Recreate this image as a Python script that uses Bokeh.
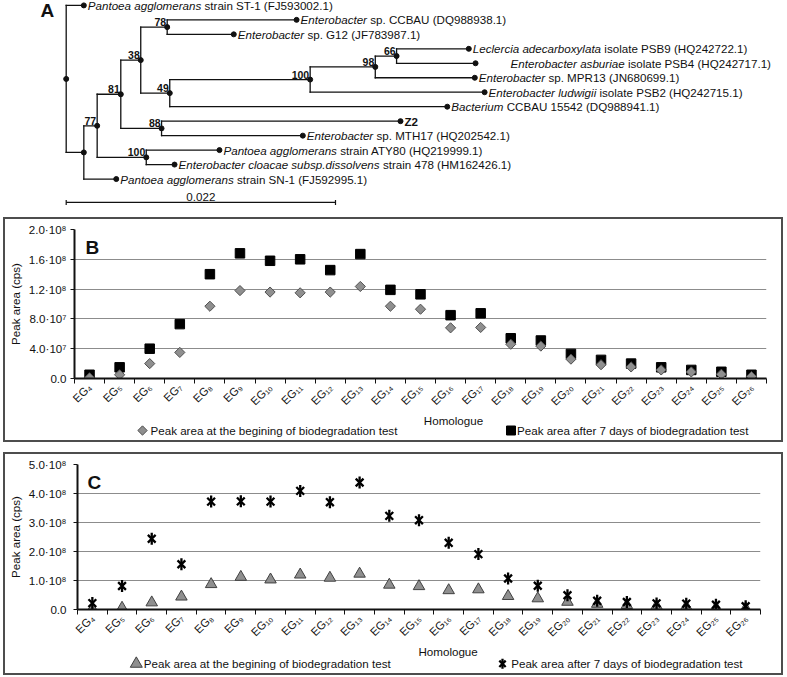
import numpy as np
from bokeh.plotting import figure
from bokeh.models import Range1d, FixedTicker, Label, ColumnDataSource, Spacer
from bokeh.layouts import column
from bokeh.embed import file_html
from bokeh.resources import INLINE
from bokeh.core.properties import value

FONT = "Liberation Sans"
FS = "11.6px"
FSPX = 11.6
INK = "#111111"

# ---------------------------------------------------------------- data
homologues = ["EG₄", "EG₅", "EG₆", "EG₇", "EG₈", "EG₉", "EG₁₀", "EG₁₁", "EG₁₂",
              "EG₁₃", "EG₁₄", "EG₁₅", "EG₁₆", "EG₁₇", "EG₁₈", "EG₁₉", "EG₂₀",
              "EG₂₁", "EG₂₂", "EG₂₃", "EG₂₄", "EG₂₅", "EG₂₆"]

b_begin = [1.0e6, 5.0e6, 2.0e7, 3.5e7, 9.7e7, 1.18e8, 1.16e8, 1.15e8, 1.16e8,
           1.235e8, 9.7e7, 9.3e7, 6.8e7, 6.85e7, 4.6e7, 4.35e7, 2.6e7, 1.85e7,
           1.55e7, 1.15e7, 8.8e6, 5.7e6, 2.6e6]
b_after7 = [5.0e6, 1.5e7, 4.0e7, 7.3e7, 1.40e8, 1.68e8, 1.58e8, 1.60e8, 1.455e8,
            1.67e8, 1.19e8, 1.13e8, 8.5e7, 8.75e7, 5.4e7, 5.1e7, 3.3e7, 2.5e7,
            2.0e7, 1.5e7, 1.15e7, 9.0e6, 5.0e6]
b_yticks = [0, 40_000_000, 80_000_000, 120_000_000, 160_000_000, 200_000_000]
b_yticklabels = ["0.0", "4.0·10⁷", "8.0·10⁷", "1.2·10⁸", "1.6·10⁸", "2.0·10⁸"]

c_begin = [2.0e6, 5.5e6, 2.4e7, 4.4e7, 8.7e7, 1.12e8, 1.03e8, 1.20e8, 1.09e8,
           1.23e8, 8.5e7, 8.0e7, 6.6e7, 6.9e7, 4.6e7, 3.8e7, 2.6e7, 1.9e7,
           1.5e7, 1.2e7, 1.0e7, 6.0e6, 4.0e6]
c_after7 = [2.2e7, 8.1e7, 2.44e8, 1.56e8, 3.72e8, 3.73e8, 3.72e8, 4.09e8, 3.70e8,
            4.38e8, 3.23e8, 3.08e8, 2.30e8, 1.91e8, 1.07e8, 8.2e7, 4.9e7, 3.0e7,
            2.6e7, 2.1e7, 2.0e7, 1.65e7, 1.1e7]
c_yticks = [0, 100_000_000, 200_000_000, 300_000_000, 400_000_000, 500_000_000]
c_yticklabels = ["0.0", "1.0·10⁸", "2.0·10⁸", "3.0·10⁸", "4.0·10⁸", "5.0·10⁸"]

label_begin = "Peak area at the begining of biodegradation test"
label_after = "Peak area after 7 days of biodegradation test"
x_title = "Homologue"
y_title = "Peak area (cps)"

# phylogenetic tree (leaves top to bottom)
leaf_italic = ["Pantoea agglomerans", "Enterobacter", "Enterobacter",
               "Leclercia adecarboxylata", "Enterobacter asburiae", "Enterobacter",
               "Enterobacter ludwigii", "Bacterium", "", "Enterobacter",
               "Pantoea agglomerans", "Enterobacter cloacae subsp.dissolvens",
               "Pantoea agglomerans"]
leaf_plain = ["strain ST-1 (FJ593002.1)", "sp. CCBAU (DQ988938.1)",
              "sp. G12 (JF783987.1)", "isolate PSB9 (HQ242722.1)",
              "isolate PSB4 (HQ242717.1)", "sp. MPR13 (JN680699.1)",
              "isolate PSB2 (HQ242715.1)", "CCBAU 15542 (DQ988941.1)", "Z2",
              "sp. MTH17 (HQ202542.1)", "strain ATY80 (HQ219999.1)",
              "strain 478 (HM162426.1)", "strain SN-1 (FJ592995.1)"]
study_isolate = "Z2"
node_name = ["root", "u", "n77", "n81", "n38", "n78", "n49", "n100a", "n98", "n66",
             "n88", "n100b",
             "L0", "L1", "L2", "L3", "L4", "L5", "L6", "L7", "L8", "L9", "L10", "L11", "L12"]
node_parent = [None, "root", "u", "n77", "n81", "n38", "n38", "n49", "n100a", "n98",
               "n81", "n77",
               "root", "n78", "n78", "n66", "n66", "n98", "n100a", "n49", "n88", "n88",
               "n100b", "n100b", "u"]
node_dist = [0.0, 0.00144, 0.00253, 0.00446, 0.00609, 0.00825, 0.00846, 0.01993,
             0.02525, 0.02699, 0.00779, 0.00654,
             0.00144, 0.01882, 0.01369, 0.03289, 0.03344, 0.03338, 0.03418, 0.03113,
             0.02731, 0.01933, 0.01252, 0.00885, 0.00409]
node_support = ["", "", "77", "81", "38", "78", "49", "100", "98", "66", "88", "100",
                "", "", "", "", "", "", "", "", "", "", "", "", ""]
scale_bar_len = 0.022

# ---------------------------------------------------------------- helpers
_W = {}
for chars, w in [(" !.,:;ftI[]", 278), ("ijl", 222), ("()-r", 333),
                 ("ckvsxyzJ", 500), ("0123456789abdeghnopquL_", 556),
                 ("FTZ", 611), ("ABEKPSVXY", 667), ("CDHNRUw", 722),
                 ("GOQ", 778), ("Mm", 833), ("W", 944)]:
    for ch in chars:
        _W[ch] = w


def text_px(s, size):
    return sum(_W.get(ch, 556) for ch in s) * size / 1000.0


def bare(fig):
    fig.grid.visible = False
    fig.outline_line_color = None
    fig.background_fill_color = "white"
    fig.border_fill_color = "white"
    return fig


# ---------------------------------------------------------------- panel A (tree)
TW, TH = 787, 217
ROOT_PX = 65.7
PX_PER_UNIT = 269.3 / 0.022
TOP_PX, STEP_PX = 4.9, 14.47

ta = bare(figure(width=TW, height=TH, output_backend="svg", toolbar_location=None,
                 x_range=Range1d(-ROOT_PX / PX_PER_UNIT, (TW - ROOT_PX) / PX_PER_UNIT),
                 y_range=Range1d((TH - TOP_PX) / STEP_PX, -TOP_PX / STEP_PX),
                 x_axis_location=None, y_axis_location=None,
                 min_border=0, min_border_left=0, min_border_right=0,
                 min_border_top=0, min_border_bottom=0))

idx = {n: i for i, n in enumerate(node_name)}
children = {n: [] for n in node_name}
for n, par in zip(node_name, node_parent):
    if par is not None:
        children[par].append(n)
leaf_names = [n for n in node_name if n.startswith("L")]
ypos = {n: float(k) for k, n in enumerate(leaf_names)}


def get_y(n):
    if n not in ypos:
        ypos[n] = float(np.mean([get_y(c) for c in children[n]]))
    return ypos[n]


for n in node_name:
    get_y(n)
xpos = {n: node_dist[idx[n]] for n in node_name}

sx0, sy0, sx1, sy1 = [], [], [], []
for n, par in zip(node_name, node_parent):
    if par is None:
        continue
    sx0 += [xpos[par], xpos[par]]
    sy0 += [ypos[par], ypos[n]]
    sx1 += [xpos[par], xpos[n]]
    sy1 += [ypos[n], ypos[n]]
ta.segment(x0=sx0, y0=sy0, x1=sx1, y1=sy1, line_color=INK, line_width=1.3,
           line_cap="square")
ta.scatter(x=[xpos[n] for n in node_name], y=[ypos[n] for n in node_name],
           marker="circle", size=5, fill_color=INK, line_color=INK)

sup = [(xpos[n], ypos[n], node_support[idx[n]]) for n in node_name if node_support[idx[n]]]
ta.text(x=[s[0] for s in sup], y=[s[1] for s in sup], text=[s[2] for s in sup],
        x_offset=-1, y_offset=-5, text_align="right", text_baseline="middle",
        text_font=value(FONT), text_font_size="10.5px", text_font_style="bold",
        text_color=INK)

label_pad = [4, 4, 4, 4, 35, 4, 4, 4, 4, 4, 4, 4, 4]
it_src = dict(x=[], y=[], t=[], xo=[])
pl_src = dict(x=[], y=[], t=[], xo=[])
bd_src = dict(x=[], y=[], t=[], xo=[])
for k, n in enumerate(leaf_names):
    pad = label_pad[k]
    it, pl = leaf_italic[k], leaf_plain[k]
    off = pad
    if it:
        for key, v in (("x", xpos[n]), ("y", ypos[n]), ("t", it), ("xo", pad)):
            it_src[key].append(v)
        off = pad + text_px(it + " ", FSPX)
    tgt = bd_src if pl == study_isolate else pl_src
    for key, v in (("x", xpos[n]), ("y", ypos[n]), ("t", pl), ("xo", off)):
        tgt[key].append(v)
for src, style in ((it_src, "italic"), (pl_src, "normal"), (bd_src, "bold")):
    ta.text(x="x", y="y", text="t", x_offset="xo", source=ColumnDataSource(src),
            text_align="left", text_baseline="middle", text_font=value(FONT),
            text_font_size=FS, text_font_style=style, text_color=INK)

sb_y = len(leaf_names) - 1 + 1.617
tick_h = 2.5 / STEP_PX
ta.segment(x0=[0, 0, scale_bar_len], y0=[sb_y, sb_y - tick_h, sb_y - tick_h],
           x1=[scale_bar_len, 0, scale_bar_len], y1=[sb_y, sb_y + tick_h, sb_y + tick_h],
           line_color=INK, line_width=1.2)
ta.text(x=[scale_bar_len / 2], y=[sb_y], text=[f"{scale_bar_len:.3f}"], y_offset=-1,
        text_align="center", text_baseline="bottom", text_font=value(FONT),
        text_font_size=FS, text_color=INK)
ta.add_layout(Label(x=40, y=TH - 10, x_units="screen", y_units="screen", text="A",
                    text_align="left", text_baseline="middle", text_font=FONT,
                    text_font_size="19px", text_font_style="bold", text_color=INK))


# ---------------------------------------------------------------- panels B, C
def make_panel(letter, begin, after, yticks, yticklabels, kind, lay):
    W = lay["W"]
    L, R, T, B = lay["left"], lay["right"], lay["top"], lay["bottom"]
    n = len(homologues)
    ymax = yticks[-1]
    p = figure(width=W, height=lay["H"], output_backend="svg", toolbar_location=None,
               x_range=Range1d(0, n), y_range=Range1d(0, ymax),
               min_border_left=L, min_border_right=R, min_border_top=T,
               min_border_bottom=B)
    p.outline_line_color = None
    p.xgrid.visible = False
    p.ygrid.ticker = FixedTicker(ticks=yticks[1:])
    p.ygrid.grid_line_color = "#8c8c8c"
    p.ygrid.grid_line_width = 1

    centers = [i + 0.5 for i in range(n)]
    xa = p.xaxis[0]
    xa.ticker = FixedTicker(ticks=centers, minor_ticks=list(range(n + 1)))
    xa.major_label_overrides = {c: h for c, h in zip(centers, homologues)}
    xa.major_tick_line_color = None
    xa.major_tick_out = 0
    xa.major_tick_in = 0
    xa.minor_tick_line_color = INK
    xa.minor_tick_out = 5
    xa.minor_tick_in = 0
    xa.axis_line_width = 2
    xa.axis_line_color = INK
    xa.major_label_orientation = np.pi / 4
    xa.major_label_standoff = 2
    xa.major_label_text_font = FONT
    xa.major_label_text_font_size = "11.3px"
    xa.major_label_text_color = INK

    ya = p.yaxis[0]
    ya.ticker = FixedTicker(ticks=yticks, minor_ticks=[])
    ya.major_label_overrides = {t: s for t, s in zip(yticks, yticklabels)}
    ya.major_tick_out = 4
    ya.major_tick_in = 0
    ya.major_tick_line_color = INK
    ya.axis_line_width = 2
    ya.axis_line_color = INK
    ya.major_label_standoff = lay["ylab_standoff"]
    ya.major_label_text_font = FONT
    ya.major_label_text_font_size = FS
    ya.major_label_text_color = INK
    ya.axis_label = y_title
    ya.axis_label_standoff = 4
    ya.axis_label_text_font = FONT
    ya.axis_label_text_font_size = FS
    ya.axis_label_text_font_style = "normal"
    ya.axis_label_text_color = INK

    src = ColumnDataSource(dict(x=centers, begin=begin, after=after))
    if kind == "B":
        p.scatter(x="x", y="after", source=src, marker="square", size=9.5,
                  fill_color="#000", line_color="#000")
        p.scatter(x="x", y="begin", source=src, marker="square", size=7.2,
                  angle=np.pi / 4, fill_color="#8f8f8f", line_color="#505050", line_width=1)
    else:
        p.scatter(x="x", y="begin", source=src, marker="triangle", size=11.5,
                  fill_color="#8f8f8f", line_color="#404040", line_width=1)
        p.scatter(x="x", y="after", source=src, marker="x", size=11,
                  line_color="#000", line_width=2.3)
        p.scatter(x="x", y="after", source=src, marker="dash", size=12,
                  angle=np.pi / 2, line_color="#000", line_width=2.3)

    p.add_layout(Label(x=lay["letter_dx"], y=ymax * (1 - lay["letter_dy"] / 150),
                       x_units="screen", text=letter, text_align="left",
                       text_baseline="top", text_font=FONT, text_font_size="19px",
                       text_font_style="bold", text_color=INK))

    # title + legend strip below the chart
    FH = lay["FH"]
    f = bare(figure(width=W, height=FH, output_backend="svg", toolbar_location=None,
                    x_range=Range1d(0, W), y_range=Range1d(FH, 0),
                    x_axis_location=None, y_axis_location=None,
                    min_border=0, min_border_left=0, min_border_right=0,
                    min_border_top=0, min_border_bottom=0))
    f.text(x=[lay["title_x"]], y=[lay["title_y"]], text=[x_title], text_align="center",
           text_baseline="middle", text_font=value(FONT), text_font_size=FS,
           text_color=INK)
    gy = lay["leg_y"]
    (m1x, t1x), (m2x, t2x) = lay["leg_x"]
    if kind == "B":
        f.scatter(x=[m1x], y=[gy], marker="square", size=6.6, angle=np.pi / 4,
                  fill_color="#8f8f8f", line_color="#505050", line_width=1)
        f.scatter(x=[m2x], y=[gy], marker="square", size=9, fill_color="#000",
                  line_color="#000")
    else:
        f.scatter(x=[m1x], y=[gy], marker="triangle", size=12, fill_color="#8f8f8f",
                  line_color="#404040", line_width=1)
        f.scatter(x=[m2x], y=[gy], marker="x", size=9, line_color="#000", line_width=2.3)
        f.scatter(x=[m2x], y=[gy], marker="dash", size=10, angle=np.pi / 2,
                  line_color="#000", line_width=2.3)
    f.text(x=[t1x, t2x], y=[gy, gy], text=[label_begin, label_after], text_align="left",
           text_baseline="middle", text_font=value(FONT), text_font_size=FS,
           text_color=INK)
    return column(column(p), column(f), styles={"border": "2px solid #4d4d4d"},
                  margin=(0, 0, 0, lay["box_x"]))


lay_b = dict(W=776, H=195, left=67, right=15, top=10, bottom=28, ylab_standoff=4,
             letter_dx=11, letter_dy=8, FH=26, title_x=448, title_y=5.5, leg_y=16,
             leg_x=((137, 145), (505.5, 511.5)), box_x=3)
lay_c = dict(W=776, H=191, left=72, right=21, top=10, bottom=28, ylab_standoff=7,
             letter_dx=10, letter_dy=8, FH=28, title_x=442.6, title_y=5.5, leg_y=18.3,
             leg_x=((130.8, 138.3), (497, 505.7)), box_x=3)

pb = make_panel("B", b_begin, b_after7, b_yticks, b_yticklabels, "B", lay_b)
pc = make_panel("C", c_begin, c_after7, c_yticks, c_yticklabels, "C", lay_c)

layout = column(column(ta), pb, Spacer(height=10), pc)
open("out.html", "w").write(file_html(layout, INLINE))
